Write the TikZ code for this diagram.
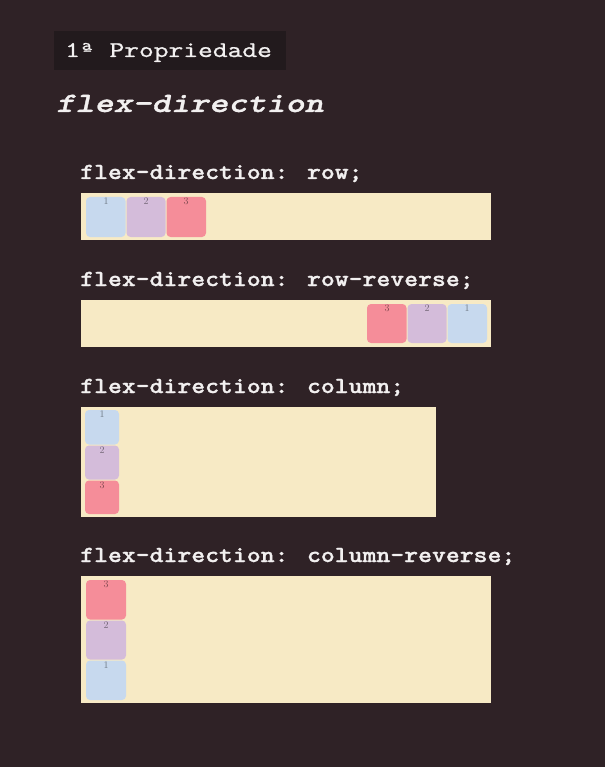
\documentclass[tikz,border=0pt]{standalone}
\usepackage{fontspec}
\newfontfamily\labfont{lmmonolt10-bold.otf}[FakeStretch=1.15, FakeBold=1.2]
\newfontfamily\headfont{lmmonolt10-boldoblique.otf}[FakeStretch=1.3, FakeBold=1.2]
\newfontfamily\titlefont{lmmono10-regular.otf}[FakeStretch=1.25, FakeBold=0.8]
\definecolor{bgc}{HTML}{2F2226}
\definecolor{titlebg}{HTML}{221A1D}
\definecolor{cont}{HTML}{F7EAC5}
\definecolor{cblue}{HTML}{C7D9EE}
\definecolor{cpurple}{HTML}{D4BCDA}
\definecolor{cpink}{HTML}{F58D99}
\definecolor{txt}{HTML}{F2F0F0}
\tikzset{
  lbl/.style={anchor=base west, inner sep=0pt, text=txt, font=\labfont\fontsize{23}{23}\selectfont},
  container/.style={fill=cont, draw=none},
  item/.style={draw=none, rounded corners=4pt},
  num/.style={anchor=north, inner sep=0pt, text=black, text opacity=0.45, font=\fontsize{10}{10}\selectfont}
}
\begin{document}
\begin{tikzpicture}[x=1pt,y=-1pt]
\fill[bgc] (0,0) rectangle (605,767);
\useasboundingbox (0,0) rectangle (605,767);
% title
\fill[titlebg] (54,31) rectangle (286,70);
\node[anchor=base west, inner sep=0pt, text=txt, font=\titlefont\fontsize{22.5}{22.5}\selectfont] (title) at (65,57) {1ª Propriedade};
\node[anchor=base west, inner sep=0pt, text=txt, font=\headfont\fontsize{28}{28}\selectfont] (heading) at (56,112) {flex-direction};

% row
\node[lbl] (l1) at (80,179) {flex-direction: row;};
\fill[container] (81,193) rectangle (491,240);
\fill[item, cblue] (86,197) rectangle (125.5,237);
\node[num] (r1) at (106,198) {1};
\fill[item, cpurple] (126.5,197) rectangle (165.5,237);
\node[num] (r2) at (146,198) {2};
\fill[item, cpink] (166.5,197) rectangle (206,237);
\node[num] (r3) at (186,198) {3};

% row-reverse
\node[lbl] (l2) at (80,286) {flex-direction: row-reverse;};
\fill[container] (81,300) rectangle (491,347);
\fill[item, cpink] (367,304) rectangle (406.5,343);
\node[num] (rr3) at (387,305) {3};
\fill[item, cpurple] (407.5,304) rectangle (446.5,343);
\node[num] (rr2) at (427,305) {2};
\fill[item, cblue] (447.5,304) rectangle (487,343);
\node[num] (rr1) at (467,305) {1};

% column
\node[lbl] (l3) at (80,393) {flex-direction: column;};
\fill[container] (81,407) rectangle (436,517);
\fill[item, cblue] (85,410) rectangle (119,444.5);
\node[num] (c1) at (102,411) {1};
\fill[item, cpurple] (85,445.5) rectangle (119,479.5);
\node[num] (c2) at (102,446.5) {2};
\fill[item, cpink] (85,480.5) rectangle (119,514);
\node[num] (c3) at (102,481.5) {3};

% column-reverse
\node[lbl] (l4) at (80,562) {flex-direction: column-reverse;};
\fill[container] (81,576) rectangle (491,703);
\fill[item, cpink] (86,580) rectangle (126,619.5);
\node[num] (cr3) at (106,581) {3};
\fill[item, cpurple] (86,620.5) rectangle (126,659.5);
\node[num] (cr2) at (106,621.5) {2};
\fill[item, cblue] (86,660.5) rectangle (126,700);
\node[num] (cr1) at (106,661.5) {1};
\end{tikzpicture}
\end{document}
